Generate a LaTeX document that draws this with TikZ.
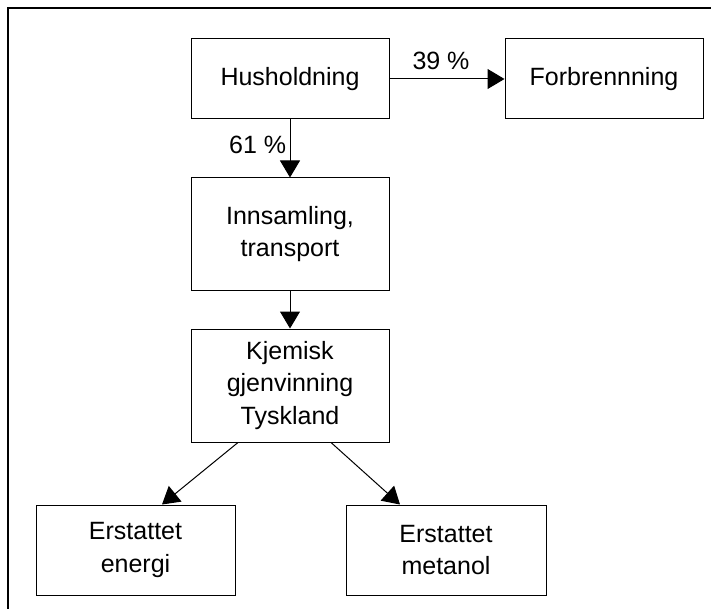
\documentclass[tikz,border=0pt]{standalone}
\usepackage{fontspec}
\setmainfont{Liberation Sans}
\usetikzlibrary{positioning,arrows.meta}

\begin{document}
\begin{tikzpicture}[
x=1pt, y=-1pt,
font=\fontsize{25}{32.5}\selectfont,
box/.style={draw, line width=1pt, align=center, minimum width=198pt, inner sep=2pt},
arr/.style={-{Triangle[length=17pt, width=20pt]}, line width=1pt}
]
\useasboundingbox (0,0) rectangle (711,609);
\draw[line width=1.3pt] (711,8) -- (8,8) -- (8,609);

\node[box, minimum height=80pt] (hus) at (290,79) {Husholdning};
\node[box, minimum height=80pt, right=115pt of hus] (forb) {Forbrennning};
\node[box, minimum height=112pt, below=58pt of hus] (inn) {Innsamling,\\transport};
\node[box, minimum height=113pt, below=38pt of inn] (kjem) {Kjemisk\\gjenvinning\\Tyskland};
\node[box, minimum height=90pt, minimum width=199pt, below=62pt of kjem, xshift=-154.5pt] (energi) {Erstattet\\energi};
\node[box, minimum height=90pt, minimum width=200pt, below=62pt of kjem, xshift=156pt] (metanol) {Erstattet\\metanol};

\draw[arr] (hus) -- node[above=5pt, xshift=-6pt] {39 \%} (forb);
\draw[arr] (hus) -- node[left, yshift=4pt] {61 \%} (inn);
\draw[arr] (inn) -- (kjem);
\draw[arr] ([xshift=-52pt]kjem.south) -- ([xshift=26.5pt]energi.north);
\draw[arr] ([xshift=41pt]kjem.south) -- ([xshift=-46pt]metanol.north);
\end{tikzpicture}
\end{document}
